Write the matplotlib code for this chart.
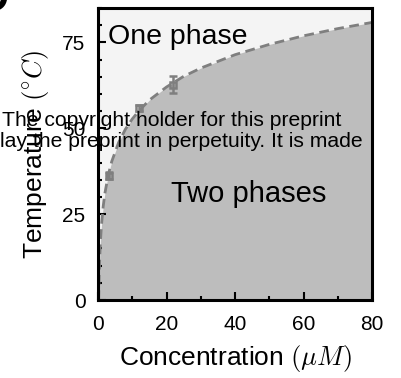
import numpy as np
import matplotlib.pyplot as plt

plt.rcParams['font.family'] = ['Liberation Sans', 'DejaVu Sans']
plt.rcParams['mathtext.fontset'] = 'cm'

# measured points
conc = [3.3, 12.0, 21.9]
temp = [36.2, 55.9, 62.7]
temp_err = [1.0, 1.0, 2.4]

# boundary curve
curve_c = [0.2, 0.3, 0.5, 0.75, 1, 1.5, 2, 3, 4, 6, 8, 10, 12, 15, 20, 25, 30, 40, 50, 60, 70, 80]
curve_t = [0.0, 5.4, 12.2, 17.7, 21.6, 27.1, 31.0, 36.4, 40.3, 45.8, 49.7, 52.7, 55.1, 58.2,
           62.0, 65.1, 67.5, 71.4, 74.4, 76.9, 79.0, 80.8]

xticks = [0, 20, 40, 60, 80]
yticks = [0, 25, 50, 75]

fig = plt.figure(figsize=(4.01, 3.78), dpi=100)
ax = fig.add_axes([98/401, 1 - 300/378, 274/401, 292/378])
ax.set_facecolor('#f4f4f4')

ax.fill_between([0] + curve_c, [0] + curve_t, 0, color='#bdbdbd', lw=0, zorder=1)
ax.plot(curve_c, curve_t, ls=(0, (3.5, 2)), color='#7f7f7f', lw=2, zorder=2)
ax.errorbar(conc, temp, yerr=temp_err, fmt='s', color='#7f7f7f', mfc='none', mew=1.8,
            ms=5, capsize=3, elinewidth=1.8, capthick=1.8, zorder=3)

ax.text(3, 76.5, 'One phase', fontsize=20.5, va='center')
ax.text(44, 31, 'Two phases', fontsize=21, ha='center', va='center')

ax.set_xlim(0, 80)
ax.set_ylim(0, 85)
ax.set_xticks(xticks)
ax.set_yticks(yticks)
ax.set_xticks(np.arange(0, 81, 10), minor=True)
ax.set_yticks(np.arange(0, 86, 5), minor=True)
ax.tick_params(which='both', direction='in', width=1.5, labelsize=15, pad=9)
ax.tick_params(axis='x', pad=11)
ax.tick_params(which='major', length=6)
ax.tick_params(which='minor', length=3)
for s in ax.spines.values():
    s.set_linewidth(2.2)

ax.set_xlabel(r'Concentration $(\mu M)$', fontsize=19, labelpad=6)
ax.set_ylabel(r'Temperature $(^{\circ}C)$', fontsize=19, labelpad=8)

fig.text(2/401, 1 - 120/378, 'The copyright holder for this preprint', fontsize=15.2, va='center')
fig.text(0, 1 - 142/378, 'lay the preprint in perpetuity. It is made', fontsize=15.2, va='center')
fig.text(-0.055, 1.0, 'D', fontsize=30, fontweight='bold', va='center')

fig.savefig('out.png', dpi=100)
